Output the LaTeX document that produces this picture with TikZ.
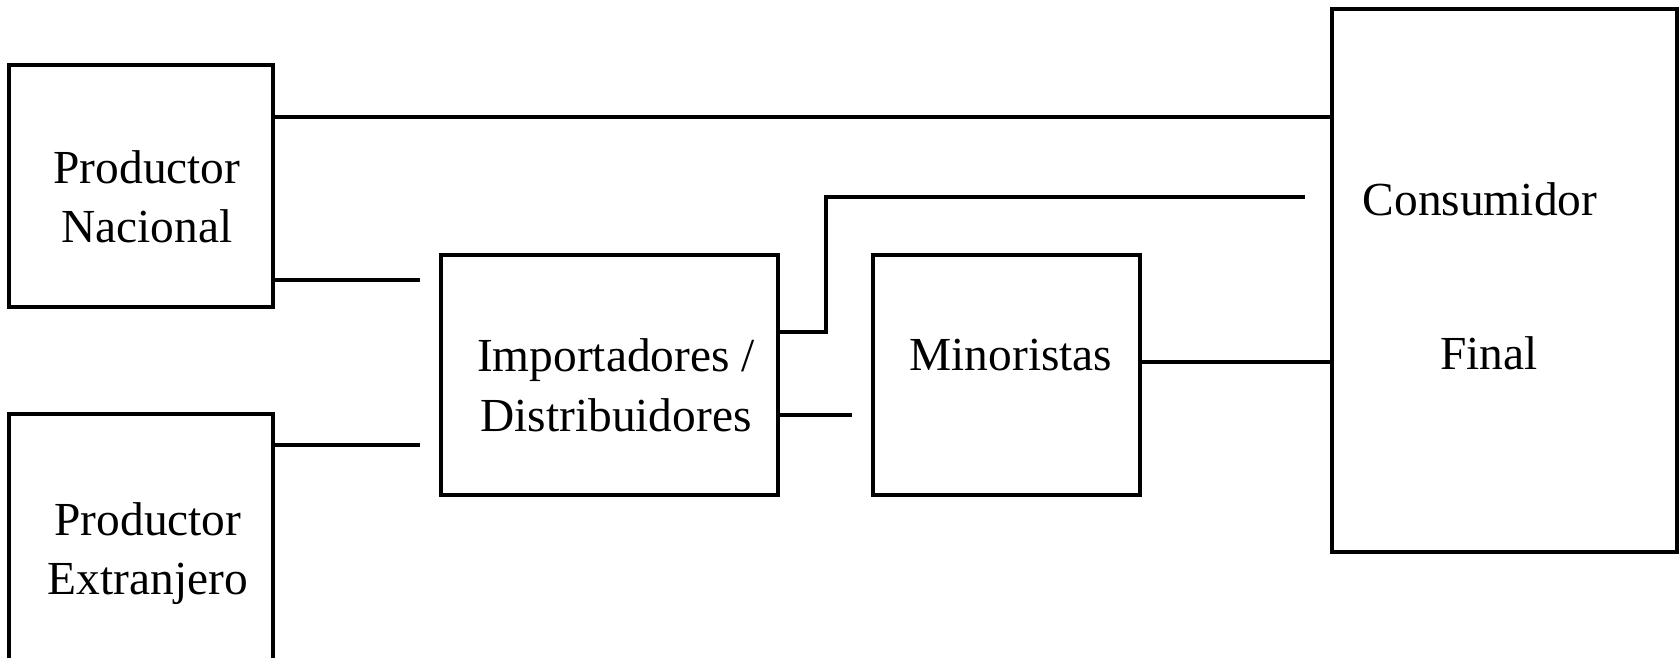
\documentclass[tikz,border=0pt]{standalone}
\usepackage{fontspec}
\setmainfont{Liberation Serif}
\usetikzlibrary{fit}
\begin{document}
\begin{tikzpicture}[x=0.5pt,y=-0.5pt,
  box/.style={draw=black,line width=2pt,inner sep=0pt,fill=white},
  lab/.style={anchor=base,inner sep=0pt,font=\fontsize{23.7pt}{29.5pt}\selectfont},
  conn/.style={draw=black,line width=2pt}]
\clip (0,0) rectangle (1680,658);
\fill[white] (0,0) rectangle (1680,658);
% boxes
\node[box,fit={(9,65) (273,307)}] (pn) {};
\node[box,fit={(9,414) (273,720)}] (pe) {};
\node[box,fit={(441,255) (778,495)}] (imp) {};
\node[box,fit={(873,255) (1140,495)}] (mino) {};
\node[box,fit={(1332,9) (1677,552)}] (cf) {};
% texts
\node[lab] (pn1) at (147,183) {Productor};
\node[lab] (pn2) at (147,242) {Nacional};
\node[lab] (pe1) at (148,535) {Productor};
\node[lab] (pe2) at (148,594) {Extranjero};
\node[lab] (imp1) at (616,371) {Importadores /};
\node[lab] (imp2) at (616,431) {Distribuidores};
\node[lab] (mino1) at (1011,370) {Minoristas};
\node[lab] (cf1) at (1480,215) {Consumidor};
\node[lab] (cf2) at (1489,369) {Final};
% free ends
\coordinate (g1) at (420,280);
\coordinate (g2) at (420,445);
\coordinate (g3) at (852,415);
\coordinate (g4) at (1305,197);
\coordinate (k1) at (826,332);
% connectors
\draw[conn] (pn.east |- 0,117) -- (cf.west |- 0,117);
\draw[conn] (pn.east |- g1) -- (g1);
\draw[conn] (pe.east |- g2) -- (g2);
\draw[conn] (imp.east |- k1) -- (k1) -- (k1 |- g4) -- (g4);
\draw[conn] (imp.east |- g3) -- (g3);
\draw[conn] (mino.east |- 0,362) -- (cf.west |- 0,362);
\end{tikzpicture}
\end{document}
